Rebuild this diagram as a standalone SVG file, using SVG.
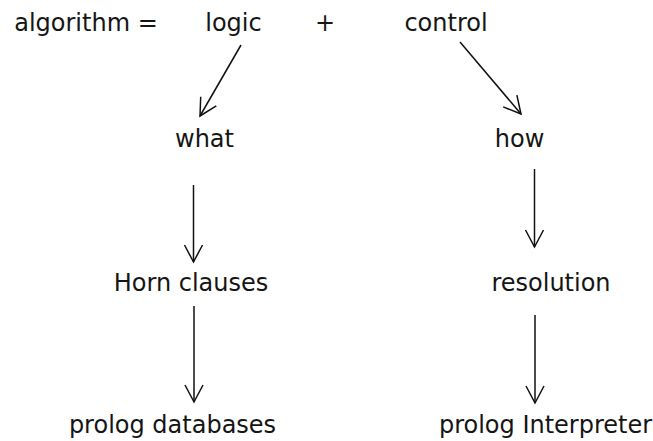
<svg xmlns="http://www.w3.org/2000/svg" width="653" height="441" viewBox="0 0 653 441">
  <style>
    text { font-family: "DejaVu Sans", "Liberation Sans", sans-serif; font-size: 24px; fill: #151515; text-anchor: middle; }
    .edge { stroke: #111; stroke-width: 1.5; fill: none; }
  </style>
  <defs>
    <marker id="arrow" viewBox="-20 -11 22 22" refX="0" refY="0" markerWidth="22" markerHeight="22" markerUnits="userSpaceOnUse" orient="auto">
      <path d="M-17,-9 L0,0 L-17,9" fill="none" stroke="#111" stroke-width="1.5"/>
    </marker>
  </defs>
  <rect width="653" height="441" fill="#ffffff"/>
  <g id="algorithm"><text x="86" y="31">algorithm =</text></g>
  <g id="logic"><text x="233.5" y="31">logic</text></g>
  <g id="plus"><text x="325" y="31">+</text></g>
  <g id="control"><text x="446" y="31">control</text></g>
  <g id="what"><text x="204.5" y="147">what</text></g>
  <g id="how"><text x="519.5" y="147">how</text></g>
  <g id="horn"><text x="191" y="291">Horn clauses</text></g>
  <g id="resolution"><text x="551" y="291">resolution</text></g>
  <g id="databases"><text x="172.5" y="433">prolog databases</text></g>
  <g id="interpreter"><text x="545.5" y="433">prolog Interpreter</text></g>
  <g id="connectors">
    <line class="edge" x1="241" y1="45" x2="200" y2="116" marker-end="url(#arrow)"/>
    <line class="edge" x1="460" y1="42" x2="521" y2="114" marker-end="url(#arrow)"/>
    <line class="edge" x1="193.5" y1="185" x2="193.5" y2="262" marker-end="url(#arrow)"/>
    <line class="edge" x1="194" y1="306" x2="194" y2="402" marker-end="url(#arrow)"/>
    <line class="edge" x1="534.5" y1="169" x2="534.5" y2="247" marker-end="url(#arrow)"/>
    <line class="edge" x1="535" y1="315" x2="535" y2="403" marker-end="url(#arrow)"/>
  </g>
</svg>
